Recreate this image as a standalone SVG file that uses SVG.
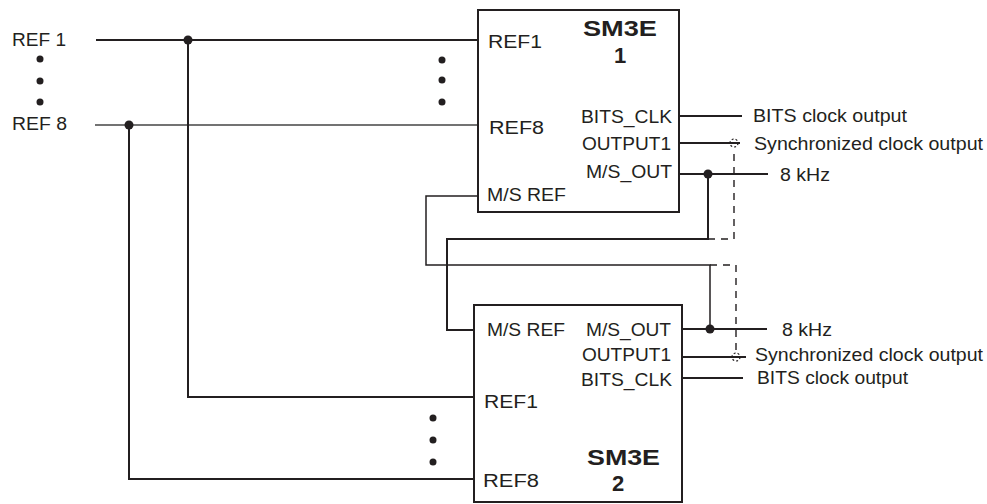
<svg xmlns="http://www.w3.org/2000/svg" width="987" height="504" viewBox="0 0 987 504">
<style>
text{font-family:"Liberation Sans",Arial,sans-serif;fill:#231f20}
.lbl{font-size:18px}
.ttl{font-size:22px;font-weight:bold}
.box{fill:#fff;stroke:#231f20;stroke-width:2}
.w{fill:none;stroke:#231f20;stroke-width:2}
.t{fill:none;stroke:#231f20;stroke-width:1.5}
.g{fill:none;stroke:#444;stroke-width:1.4}
.d{fill:none;stroke:#231f20;stroke-width:1.4;stroke-dasharray:7,6}
.dc{fill:none;stroke:#231f20;stroke-width:1.2;stroke-dasharray:2,2}
.dot{fill:#231f20}
</style>
<rect width="987" height="504" fill="#fff"/>
<g id="connectors">
<polyline class="w" points="96,40 478,40"/>
<polyline class="g" points="95,125 478,125"/>
<polyline class="w" points="188,40 188,397 474,397"/>
<polyline class="w" points="129,125 129,479 474,479"/>
<polyline class="t" points="478,196 426,196 426,265 710,265 710,329"/>
<polyline class="w" points="708,174 708,239 447,239 447,330 474,330"/>
<line class="w" x1="679" y1="116" x2="742" y2="116"/>
<line class="w" x1="679" y1="143" x2="740" y2="143"/>
<line class="w" x1="679" y1="174" x2="768" y2="174"/>
<line class="w" x1="682" y1="329" x2="767" y2="329"/>
<line class="w" x1="682" y1="357" x2="746" y2="357"/>
<line class="w" x1="682" y1="378" x2="743" y2="378"/>
<polyline class="d" points="708,239 734,239 734,148"/>
<circle class="dc" cx="734" cy="143" r="4"/>
<polyline class="d" points="710,265 736,265 736,352"/>
<circle class="dc" cx="736" cy="357" r="4"/>
<circle class="dot" cx="188" cy="40" r="4.5"/>
<circle class="dot" cx="129" cy="125" r="4.5"/>
<circle class="dot" cx="708" cy="174" r="4.5"/>
<circle class="dot" cx="710" cy="329" r="4.5"/>
</g>
<g id="inputs">
<text class="lbl" x="12" y="46" textLength="54" lengthAdjust="spacingAndGlyphs">REF 1</text>
<text class="lbl" x="12" y="130" textLength="55" lengthAdjust="spacingAndGlyphs">REF 8</text>
<circle class="dot" cx="40" cy="59" r="3.5"/>
<circle class="dot" cx="40" cy="81" r="3.5"/>
<circle class="dot" cx="40" cy="102" r="3.5"/>
</g>
<g id="sm3e1">
<rect class="box" x="478" y="10" width="201" height="202"/>
<text class="ttl" x="583" y="36" textLength="74" lengthAdjust="spacingAndGlyphs">SM3E</text>
<text class="ttl" x="620" y="63" text-anchor="middle">1</text>
<text class="lbl" x="488" y="48" textLength="54" lengthAdjust="spacingAndGlyphs">REF1</text>
<text class="lbl" x="489" y="134" textLength="55" lengthAdjust="spacingAndGlyphs">REF8</text>
<text class="lbl" x="487" y="201" textLength="79" lengthAdjust="spacingAndGlyphs">M/S REF</text>
<text class="lbl" x="581" y="123" textLength="91" lengthAdjust="spacingAndGlyphs">BITS_CLK</text>
<text class="lbl" x="582" y="150" textLength="89" lengthAdjust="spacingAndGlyphs">OUTPUT1</text>
<text class="lbl" x="586" y="178" textLength="86" lengthAdjust="spacingAndGlyphs">M/S_OUT</text>
<circle class="dot" cx="442" cy="60" r="3.5"/>
<circle class="dot" cx="442" cy="80" r="3.5"/>
<circle class="dot" cx="442" cy="102" r="3.5"/>
</g>
<g id="sm3e2">
<rect class="box" x="474" y="305" width="208" height="197"/>
<text class="ttl" x="587" y="465" textLength="73" lengthAdjust="spacingAndGlyphs">SM3E</text>
<text class="ttl" x="618" y="491" text-anchor="middle">2</text>
<text class="lbl" x="487" y="336" textLength="78" lengthAdjust="spacingAndGlyphs">M/S REF</text>
<text class="lbl" x="586" y="336" textLength="85" lengthAdjust="spacingAndGlyphs">M/S_OUT</text>
<text class="lbl" x="582" y="361" textLength="89" lengthAdjust="spacingAndGlyphs">OUTPUT1</text>
<text class="lbl" x="581" y="386" textLength="91" lengthAdjust="spacingAndGlyphs">BITS_CLK</text>
<text class="lbl" x="484" y="408" textLength="54" lengthAdjust="spacingAndGlyphs">REF1</text>
<text class="lbl" x="483" y="487" textLength="56" lengthAdjust="spacingAndGlyphs">REF8</text>
<circle class="dot" cx="433" cy="418" r="3.5"/>
<circle class="dot" cx="433" cy="440" r="3.5"/>
<circle class="dot" cx="433" cy="462" r="3.5"/>
</g>
<g id="outputs">
<text class="lbl" x="753" y="122" textLength="154" lengthAdjust="spacingAndGlyphs">BITS clock output</text>
<text class="lbl" x="754" y="150" textLength="229" lengthAdjust="spacingAndGlyphs">Synchronized clock output</text>
<text class="lbl" x="780" y="181" textLength="50" lengthAdjust="spacingAndGlyphs">8 kHz</text>
<text class="lbl" x="782" y="336" textLength="50" lengthAdjust="spacingAndGlyphs">8 kHz</text>
<text class="lbl" x="755" y="361" textLength="228" lengthAdjust="spacingAndGlyphs">Synchronized clock output</text>
<text class="lbl" x="757" y="384" textLength="151" lengthAdjust="spacingAndGlyphs">BITS clock output</text>
</g>
</svg>
